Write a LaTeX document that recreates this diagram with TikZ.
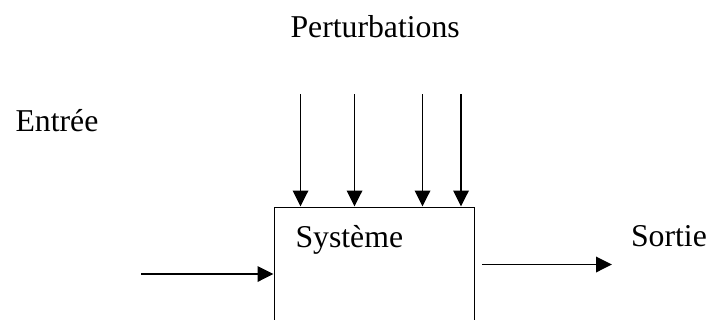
\documentclass[tikz,border=0pt]{standalone}
\usepackage{fontspec}
\setmainfont{Liberation Serif}
\usetikzlibrary{arrows.meta}
\tikzstyle{bloc} = [draw, line width=0.75pt, minimum width=80pt, minimum height=64pt,
  inner sep=0pt]
\tikzstyle{texte} = [anchor=base west, inner sep=0pt, font=\fontsize{12.7}{15}\selectfont]
\tikzstyle{fleche} = [draw, line width=0.75pt, -{Triangle[length=6.4pt, width=6.2pt]}]
\begin{document}
\begin{tikzpicture}[x=0.4pt, y=-0.4pt]

  \useasboundingbox (0,0) rectangle (707,320);

  % Draw the system block
  \node (sys) [bloc, anchor=north west] at (273.5,206.5) {};
  \node (nsys) [texte] at (295,247) {Système};

  % Labels
  \node (nentree) [texte] at (15,131.5) {Entrée};
  \node (npert) [texte] at (290,37) {Perturbations};
  \node (nsortie) [texte] at (630.5,246) {Sortie};

  % Draw disturbance arrows
  \coordinate (p1) at (300.5,94);
  \coordinate (p2) at (354.5,94);
  \coordinate (p3) at (422.5,94);
  \coordinate (p4) at (461,94);
  \foreach \i in {1,...,4}
    \path [fleche] (p\i) -- (p\i |- sys.north);

  % Draw input and output arrows
  \coordinate (in) at (141,274);
  \path [fleche] (in) -- (in -| sys.west);
  \coordinate (out1) at (482,264.5);
  \coordinate (out2) at (612,264.5);
  \path [fleche] (out1) -- (out2);

\end{tikzpicture}
\end{document}
